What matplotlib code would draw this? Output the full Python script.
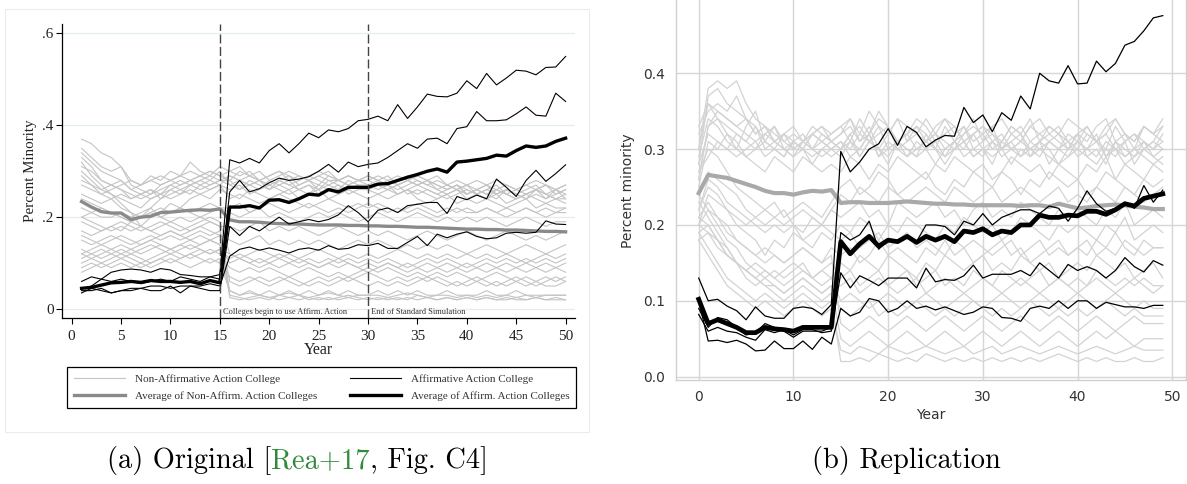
import matplotlib
matplotlib.use('Agg')
import matplotlib.pyplot as plt
from matplotlib.patches import Rectangle
from matplotlib.transforms import IdentityTransform
import numpy as np

W, H = 1187, 484

# ---------------- data: original (Stata) panel, years 1..50 ----------------
orig_years = list(range(1, 51))

# non-affirmative-action colleges, percent minority in percent
orig_nonaa_pct = [
    [37,36,34,33,31,28,27,28,27,28,29,28,29,30,29, 30,29,30,28,29,30,28,29,28,29,28,28,29,28,29, 28,27,28,29,28,27,28,27,26,27, 26,27,26,27,26,27,26,27,26,27],
    [35,33,31,30,31,27,26,25,27,28,27,28,29,28,30, 27,28,29,28,27,28,29,27,28,27,29,28,27,28,28, 29,28,27,28,29,28,27,26,27,26, 25,26,27,25,26,25,26,27,25,26],
    [33,31,28,27,26,24,25,26,24,26,27,28,27,28,27, 29,28,27,26,28,27,26,27,28,26,27,26,28,27,26, 27,26,27,28,27,26,25,26,27,25, 26,25,24,26,25,24,25,24,26,25],
    [32,29,27,25,24,23,22,24,25,26,25,27,26,27,28, 28,26,27,28,26,27,28,26,27,26,28,27,26,27,27, 26,27,25,26,27,28,26,25,26,27, 25,26,25,26,25,24,26,25,24,24],
    [30,28,26,25,23,21,20,22,24,25,26,25,27,26,27, 26,27,25,26,27,26,25,26,27,25,26,27,25,26,26, 25,26,27,25,26,25,24,25,26,24, 25,24,25,23,24,25,24,23,24,23],
    [29,27,25,24,22,21,18,20,21,23,22,24,25,24,26, 25,24,26,25,24,25,26,24,25,26,24,25,26,25,24, 25,24,25,26,24,23,24,25,23,24, 23,24,23,22,23,24,22,23,22,22],
    [22,21,20,20,21,20,21,22,20,21,22,21,22,23,22, 22,23,21,22,23,22,21,22,23,22,21,22,21,22,23, 22,21,22,21,22,21,20,21,22,21, 21,22,21,20,21,22,21,20,21,21],
    [20,21,22,21,20,19,20,21,22,21,22,21,20,21,22, 21,20,21,22,20,21,20,19,20,21,20,21,20,19,20, 21,20,19,20,21,20,19,20,19,20, 19,20,19,18,19,20,19,18,19,19],
    [17,16,17,18,17,19,18,17,18,19,18,17,18,19,18, 18,17,18,19,17,18,17,18,17,16,17,18,17,16,17, 16,17,16,15,16,17,16,15,16,17, 16,15,16,17,16,15,16,15,16,17],
    [16,15,14,15,16,15,14,15,16,17,16,15,16,15,16, 15,14,15,16,14,15,14,15,14,15,14,13,14,15,14, 15,14,13,14,13,14,13,14,13,12, 13,14,13,12,13,14,13,12,13,14],
    [13,12,13,12,13,12,13,14,13,12,13,14,13,12,13, 12,11,12,13,12,11,12,11,12,13,12,11,12,11,12, 11,12,13,12,11,12,11,12,11,12, 11,12,11,12,11,10,11,12,11,12],
    [12,11,12,13,14,13,12,13,14,13,14,15,14,15,14, 10,11,10,9,10,11,10,9,10,9,10,9,10,9,8, 9,10,9,8,9,10,9,8,9,10, 9,10,9,10,9,10,9,10,9,10],
    [10,11,10,11,12,11,10,11,12,13,12,11,12,13,12, 9,8,9,8,9,8,7,8,9,8,7,8,7,8,9, 8,9,8,7,8,7,8,7,8,7, 6,7,8,7,6,7,6,7,6,7],
    [9,10,9,10,11,10,9,10,11,10,11,12,11,10,11, 7,6,7,6,5,6,7,6,5,6,5,6,7,6,5, 6,5,6,5,6,7,6,5,6,5, 6,5,6,5,6,5,6,5,5,6],
    [8,9,10,9,10,9,10,9,10,11,10,9,10,11,10, 4,3,4,3,4,3,4,3,4,3,4,3,4,3,3, 4,3,4,3,4,3,3,4,3,3, 3,4,3,3,4,3,3,3,3,3],
    [12,13,14,13,12,13,14,15,14,13,14,13,14,15,14, 3,2.5,2,2.5,2,3,2.5,2,2.5,2,2.5,2,2.5,2,2.5, 2,2.5,2,2.5,2,2.5,2,2.5,2,2.5, 2,2.5,2,2.5,2,2,2.5,2,2,2],
    [25,24,23,24,25,24,25,26,25,27,26,27,28,27,28, 27,26,28,27,26,28,27,26,25,27,26,25,26,27,26, 27,26,25,26,25,26,25,24,25,26, 25,24,26,25,24,25,26,24,25,26],
    [28,27,26,27,28,26,27,29,28,30,29,32,30,29,31, 30,31,29,30,28,29,30,29,28,29,30,28,29,28,29, 28,29,27,28,29,28,27,26,27,25, 26,27,25,26,25,26,27,25,26,24],
    [19,18,17,18,19,18,17,18,19,18,17,18,19,20,19, 12,11,10,11,10,9,10,11,10,9,10,11,10,9,10, 9,10,9,10,9,8,9,10,9,8, 9,8,9,8,9,8,9,8,9,8],
    [15,14,15,16,15,14,15,16,15,16,15,16,17,16,17, 6,5,6,7,6,7,6,5,6,7,6,7,6,7,8, 7,6,7,6,7,6,7,6,5,6, 7,6,5,6,7,6,5,6,7,6],
    [20,19,18,17,18,17,18,17,16,17,16,17,18,17,16, 4,3,3.5,3,2.5,3,3.5,3,2.5,3,3.5,3,2.5,3,3, 3,2.5,3,3.5,3,2.5,3,3,2.5,3, 2.5,3,2.5,3,2.5,3,2.5,3,3,3],
    [31,30,28,27,26,25,24,25,26,27,28,27,28,29,28, 29,28,27,28,27,28,27,28,29,28,27,28,27,28,27, 28,27,26,27,28,27,26,27,26,25, 26,25,26,25,24,25,26,25,24,25],
    [34,32,30,29,28,26,25,24,25,24,25,26,25,26,27, 24,25,24,23,24,25,24,23,22,23,24,23,22,23,22, 23,22,21,22,23,22,21,22,21,22, 21,22,21,22,21,22,21,22,21,22],
    [27,26,25,26,27,28,27,28,29,28,29,30,29,30,29, 28,30,29,28,29,30,29,28,29,30,29,28,29,28,28, 27,28,29,28,27,28,29,27,28,27, 28,27,28,27,26,27,28,27,26,27],
    [11,12,11,12,11,12,11,10,11,12,11,12,13,12,13, 11,12,11,10,11,12,11,10,11,10,11,10,11,10,11, 10,11,10,9,10,11,10,11,10,9, 10,11,10,11,10,11,10,11,10,11],
    [24,23,22,21,20,19,20,21,20,19,20,19,20,19,18, 2.5,2,2.5,3,2.5,2,2.5,3,2,2.5,2,2.5,3,2.5,2, 2.5,2,2.5,2,3,2.5,2,2.5,2,2.5, 2,2.5,2,2,2.5,2,2.5,2,2.5,2],
]

orig_aa = [
    [0.06,0.07,0.065,0.06,0.065,0.06,0.055,0.06,0.065,0.06,0.07,0.065,0.06,0.07,0.075,
     0.325,0.318,0.328,0.318,0.345,0.36,0.34,0.36,0.383,0.373,0.39,0.386,0.393,0.41,0.413,
     0.42,0.41,0.445,0.415,0.44,0.468,0.463,0.462,0.47,0.497,
     0.48,0.513,0.488,0.503,0.52,0.518,0.51,0.526,0.527,0.55],
    [0.045,0.05,0.065,0.08,0.085,0.087,0.085,0.08,0.088,0.085,0.075,0.073,0.07,0.07,0.065,
     0.255,0.28,0.255,0.262,0.275,0.285,0.28,0.283,0.288,0.30,0.315,0.298,0.32,0.31,0.315,
     0.318,0.33,0.345,0.36,0.35,0.37,0.372,0.36,0.393,0.397,
     0.43,0.41,0.41,0.412,0.425,0.44,0.422,0.42,0.47,0.452],
    [0.035,0.045,0.04,0.035,0.04,0.04,0.045,0.04,0.04,0.05,0.035,0.05,0.045,0.04,0.04,
     0.18,0.16,0.18,0.17,0.185,0.2,0.185,0.19,0.195,0.19,0.195,0.205,0.225,0.21,0.19,
     0.215,0.22,0.21,0.225,0.228,0.232,0.232,0.208,0.245,0.238,
     0.248,0.24,0.283,0.265,0.245,0.28,0.302,0.278,0.295,0.314],
    [0.04,0.04,0.045,0.035,0.04,0.045,0.045,0.05,0.05,0.045,0.05,0.05,0.05,0.055,0.05,
     0.115,0.13,0.135,0.128,0.133,0.128,0.122,0.13,0.133,0.128,0.138,0.13,0.132,0.14,0.138,
     0.143,0.132,0.132,0.145,0.158,0.138,0.163,0.155,0.163,0.168,
     0.158,0.153,0.155,0.165,0.167,0.165,0.167,0.192,0.185,0.184],
]

orig_nonaa_avg = [0.234,0.222,0.212,0.209,0.209,0.195,0.2,0.202,0.21,0.211,0.213,0.215,0.216,0.215,0.218,
                  0.194,0.19,0.19,0.189,0.187,0.186,0.185,0.185,0.184,0.183,0.183,0.183,0.182,0.182,0.181,
                  0.181,0.18,0.18,0.179,0.178,0.178,0.177,0.176,0.175,0.174,
                  0.174,0.173,0.173,0.172,0.172,0.171,0.17,0.169,0.169,0.168]
orig_aa_avg = [0.045,0.047,0.052,0.057,0.058,0.06,0.058,0.062,0.06,0.06,0.058,0.06,0.055,0.062,0.057,
               0.222,0.222,0.225,0.22,0.237,0.238,0.232,0.24,0.25,0.248,0.26,0.255,0.265,0.265,0.265,
               0.272,0.273,0.28,0.287,0.293,0.3,0.305,0.298,0.32,0.322,
               0.325,0.328,0.335,0.333,0.345,0.355,0.352,0.355,0.365,0.372]

orig_xticks = list(range(0, 51, 5))
orig_yticks = [0, 0.2, 0.4, 0.6]
orig_ytick_labels = ['0', '.2', '.4', '.6']
orig_events = [15, 30]
orig_event_labels = ['Colleges begin to use Affirm. Action', 'End of Standard Simulation']
legend_labels = ['Non-Affirmative Action College', 'Average of Non-Affirm. Action Colleges',
                 'Affirmative Action College', 'Average of Affirm. Action Colleges']

# ---------------- data: replication panel, years 0..49 ----------------
rep_years = list(range(0, 50))

rep_nonaa_pct = [
    [30,38,39,38,39,36,34,33,32,31,30,31,32,31,32, 33,31,34,32,35,33,31,32,34,33,31,32,33,31,32, 33,31,32,30,31,33,32,31,30,32, 31,33,31,32,30,31,32,30,31,33],
    [28,37,38,36,35,34,33,31,30,32,31,30,32,33,31, 32,34,31,33,30,32,34,31,33,32,30,33,31,32,34, 31,33,30,32,31,33,34,32,31,30, 32,31,33,34,31,32,30,33,32,34],
    [32,35,36,35,37,34,32,33,31,32,30,31,33,32,31, 30,32,33,31,32,33,30,31,32,34,32,31,30,32,33, 32,30,31,33,32,30,31,33,32,31, 30,32,31,30,33,31,32,31,30,32],
    [26,33,34,33,32,31,30,32,31,30,31,32,30,31,30, 31,30,32,31,33,30,31,32,30,31,32,30,31,33,30, 31,32,30,31,32,29,30,31,32,30, 31,30,32,29,31,30,29,31,30,31],
    [30,36,34,32,30,33,35,31,30,29,31,30,32,31,30, 29,31,30,32,29,30,31,29,30,31,30,29,31,30,32, 30,29,30,31,29,30,31,28,30,31, 29,30,31,29,30,28,29,30,31,30],
    [25,31,30,32,31,29,30,31,33,30,29,30,28,30,31, 30,32,29,31,30,28,31,30,29,32,30,28,30,31,29, 30,28,31,30,29,31,30,29,28,30, 32,29,30,28,31,29,30,29,28,29],
    [29,34,33,31,30,29,28,27,29,28,27,29,28,27,28, 27,29,28,26,28,27,29,28,27,26,28,27,29,28,27, 28,26,27,29,28,27,28,26,28,27, 26,28,27,29,26,28,27,26,28,27],
    [27,30,29,27,25,24,23,22,23,21,22,23,22,21,23, 25,26,24,25,27,26,24,25,26,27,25,24,26,25,27, 26,25,27,26,24,26,25,27,26,25, 26,24,25,27,26,25,24,26,25,26],
    [24,27,26,25,24,22,21,20,21,22,20,19,21,20,22, 21,22,23,21,22,20,23,22,21,22,23,21,22,20,22, 23,21,22,21,23,22,21,20,22,21, 22,21,20,22,21,23,20,21,22,21],
    [22,25,24,22,20,19,18,16,18,17,19,18,17,19,18, 20,19,21,20,18,20,19,21,20,19,18,20,19,21,20, 19,20,18,19,21,20,19,18,20,19, 20,19,18,20,19,21,18,19,20,19],
    [21,23,21,20,18,17,16,15,16,15,16,17,16,15,17, 16,17,15,16,18,16,17,16,15,17,16,18,16,17,15, 16,17,18,16,17,15,16,17,18,16, 17,16,18,17,19,17,16,18,17,17],
    [20,22,20,18,17,15,14,13,14,13,14,15,13,14,13, 15,14,16,15,14,16,15,14,13,15,14,16,15,14,15, 16,14,15,14,16,15,14,15,13,14, 15,14,16,15,14,15,13,14,15,13],
    [19,20,18,16,15,14,13,12,12,11,12,13,12,11,12, 12,13,11,12,13,12,11,12,13,11,12,13,12,11,12, 13,12,11,12,13,12,11,12,13,12, 11,12,13,12,11,12,13,12,11,12],
    [23,21,19,17,15,14,13,12,11,10,11,12,11,10,11, 9,8,9,10,8,9,8,9,10,9,8,9,8,9,10, 9,8,9,8,9,10,9,8,9,8, 9,8,9,10,9,8,9,8,8,8],
    [20,19,18,16,15,13,12,13,12,11,12,13,12,11,12, 5,4,5,6,5,4,5,6,5,4,5,6,5,4,5, 6,5,4,5,6,5,4,5,6,5, 4,5,6,5,6,5,4,5,5,5],
    [19,17,15,13,12,11,10,11,10,9,10,11,10,9,10, 2,2,2.5,2,3,2.5,2,2.5,2,3,2.5,2,2.5,2,2.5, 2,2.5,2,2.5,2,2.5,2,2.5,3,2.5, 2,2.5,2,2.5,2,2,2.5,2,2,2.5],
    [18,16,14,12,11,10,9,10,9,8,9,10,9,8,9, 3.5,3,4,3.5,3,4,3.5,3,3.5,4,3.5,3,3.5,4,3, 3.5,4,3,3.5,4,3.5,3,3.5,4,3.5, 3,3.5,4,3.5,3,3.5,4,3.5,3.5,3.5],
    [24,22,21,19,18,17,16,17,16,15,16,17,16,15,16, 7,6,7,8,7,6,7,8,7,6,7,8,7,6,7, 8,7,6,7,8,7,6,7,8,7, 6,7,8,7,6,7,8,7,7,7],
    [26,33,35,34,33,34,32,33,31,32,33,31,32,33,32, 33,34,32,35,33,32,34,33,32,31,33,34,32,33,31, 32,33,34,32,33,31,32,33,32,34, 33,32,31,33,34,32,31,33,32,33],
    [27,29,31,30,32,31,33,30,31,30,29,31,30,29,30, 31,29,30,32,29,31,30,29,31,30,28,30,31,29,30, 29,31,30,28,30,29,31,30,28,29, 30,29,28,30,29,31,28,30,29,28],
    [22,26,25,23,22,21,20,19,20,19,20,18,19,20,19, 18,19,17,18,19,17,18,19,17,18,17,16,18,17,18, 17,16,17,18,16,17,18,16,17,16, 17,18,16,17,16,18,17,16,17,17],
    [18,19,17,16,15,14,15,14,13,14,15,14,13,14,15, 13,14,12,13,14,12,13,14,12,13,14,12,13,12,14, 13,12,14,13,12,13,14,12,13,12, 13,12,14,13,12,13,12,13,12,12],
    [33,36,35,34,33,32,31,32,33,31,32,31,30,32,31, 32,33,31,32,34,33,31,32,33,31,32,34,33,31,32, 33,32,31,33,32,34,31,32,33,31, 32,33,31,32,34,32,31,33,32,31],
    [28,32,31,30,29,30,31,29,30,29,31,30,29,30,29, 30,31,29,31,30,29,31,30,29,30,31,29,30,31,29, 30,31,29,30,31,30,29,31,30,29, 31,30,29,31,30,29,30,31,29,30],
    [21,20,18,17,15,14,13,14,13,12,13,14,13,12,13, 10,11,10,9,10,11,10,9,10,11,10,9,10,11,10, 9,10,11,10,9,10,11,10,9,10, 11,10,9,10,11,10,9,10,9,9],
    [20,24,23,22,21,20,21,22,21,20,21,22,21,20,22, 24,23,25,24,23,25,24,23,24,25,24,23,25,24,23, 24,25,23,24,25,24,23,24,25,23, 24,23,25,24,23,25,24,23,24,25],
]

rep_aa = [
    [0.13,0.10,0.102,0.093,0.087,0.075,0.092,0.08,0.077,0.077,0.09,0.092,0.09,0.082,0.095,
     0.297,0.27,0.283,0.30,0.307,0.327,0.305,0.33,0.322,0.303,0.312,0.318,0.317,0.355,0.335,
     0.345,0.323,0.348,0.338,0.37,0.353,0.40,0.39,0.387,0.41,
     0.386,0.387,0.416,0.402,0.413,0.437,0.442,0.456,0.473,0.476],
    [0.09,0.065,0.078,0.075,0.065,0.055,0.058,0.07,0.065,0.06,0.052,0.06,0.06,0.06,0.065,
     0.19,0.18,0.187,0.205,0.168,0.18,0.18,0.185,0.178,0.20,0.20,0.198,0.187,0.205,0.20,
     0.215,0.20,0.21,0.215,0.22,0.22,0.215,0.225,0.222,0.205,
     0.222,0.245,0.228,0.218,0.222,0.23,0.222,0.252,0.23,0.246],
    [0.082,0.06,0.065,0.06,0.058,0.052,0.048,0.062,0.058,0.062,0.055,0.062,0.062,0.058,0.06,
     0.137,0.117,0.133,0.127,0.12,0.13,0.13,0.13,0.117,0.143,0.125,0.128,0.127,0.133,0.147,
     0.13,0.135,0.135,0.135,0.14,0.133,0.15,0.14,0.13,0.148,
     0.14,0.145,0.14,0.13,0.14,0.157,0.145,0.138,0.153,0.147],
    [0.10,0.047,0.048,0.045,0.048,0.043,0.034,0.035,0.047,0.037,0.037,0.047,0.036,0.052,0.043,
     0.09,0.08,0.085,0.103,0.10,0.085,0.09,0.10,0.09,0.093,0.088,0.092,0.087,0.082,0.085,
     0.092,0.09,0.078,0.077,0.073,0.09,0.093,0.09,0.10,0.09,
     0.10,0.10,0.09,0.098,0.095,0.092,0.092,0.09,0.094,0.094],
]

rep_nonaa_avg = [0.242,0.266,0.264,0.262,0.258,0.254,0.25,0.245,0.242,0.242,0.24,0.243,0.245,0.244,0.246,
                 0.229,0.23,0.23,0.229,0.229,0.229,0.23,0.231,0.23,0.229,0.228,0.228,0.227,0.227,0.226,
                 0.226,0.226,0.226,0.226,0.225,0.226,0.226,0.224,0.228,0.225,
                 0.222,0.223,0.225,0.226,0.227,0.226,0.224,0.223,0.221,0.221]
rep_aa_avg = [0.102,0.07,0.075,0.07,0.065,0.058,0.058,0.065,0.063,0.062,0.06,0.065,0.065,0.065,0.065,
              0.178,0.162,0.175,0.185,0.172,0.18,0.178,0.185,0.177,0.185,0.18,0.185,0.178,0.192,0.19,
              0.195,0.187,0.192,0.19,0.20,0.20,0.213,0.21,0.21,0.213,
              0.212,0.218,0.218,0.214,0.22,0.228,0.225,0.235,0.238,0.241]

rep_xticks = list(range(0, 51, 10))
rep_yticks = [0.0, 0.1, 0.2, 0.3, 0.4]

caption_a = [('(a) Original [', 'black'), ('Rea+17', '#2f8a3a'), (', Fig. C4]', 'black')]
caption_b = [('(b) Replication', 'black')]

# ---------------- figure ----------------
fig = plt.figure(figsize=(W / 100, H / 100), dpi=100)


def ax_rect(l, t, r, b):
    return [l / W, 1 - b / H, (r - l) / W, (b - t) / H]


# faint outer frame around the Stata graph
fig.add_artist(Rectangle((5 / W, 1 - 432 / H), (589 - 5) / W, (432 - 9) / H,
                         transform=fig.transFigure, fill=False,
                         edgecolor='#ececec', lw=0.8))

# ---- panel (a) ----
ax1 = fig.add_axes(ax_rect(62.3, 24.3, 575, 318))
serif = 'Liberation Serif'
h_gray = None
for v in orig_nonaa_pct:
    n = min(len(v), len(orig_years))
    h_gray, = ax1.plot(orig_years[:n], np.array(v[:n]) / 100.0, color='#c4c4c4', lw=0.8, zorder=2)
h_gavg, = ax1.plot(orig_years, orig_nonaa_avg, color='#8a8a8a', lw=2.4, zorder=3,
                   solid_joinstyle='round')
h_aa = None
for v in orig_aa:
    n = min(len(v), len(orig_years))
    h_aa, = ax1.plot(orig_years[:n], v[:n], color='black', lw=0.8, zorder=4)
h_aavg, = ax1.plot(orig_years, orig_aa_avg, color='black', lw=2.4, zorder=5,
                   solid_joinstyle='round')

for xe, lab in zip(orig_events, orig_event_labels):
    ax1.axvline(xe, color='#444444', lw=1.0, linestyle=(0, (6.5, 2.5)), zorder=6)
    ax1.text(xe + 0.3, -0.006, lab, fontsize=6, family=serif, color='#333333',
             ha='left', va='center', zorder=7)

ax1.set_xlim(-0.95, 50.95)
ax1.set_ylim(-0.0196, 0.620)
ax1.set_xticks(orig_xticks)
ax1.set_yticks(orig_yticks)
ax1.set_yticklabels(orig_ytick_labels)
for s in ['top', 'right']:
    ax1.spines[s].set_visible(False)
for s in ['left', 'bottom']:
    ax1.spines[s].set_linewidth(0.9)
    ax1.spines[s].set_color('black')
ax1.yaxis.grid(True, color='#e4eded', lw=0.9)
ax1.set_axisbelow(True)
ax1.tick_params(axis='y', length=4, width=0.8, pad=2.2, labelsize=11, labelcolor='#222222')
ax1.tick_params(axis='x', length=4, width=0.8, pad=4.5, labelsize=11, labelcolor='#222222')
for lab in ax1.get_xticklabels() + ax1.get_yticklabels():
    lab.set_family(serif)

fig.text(318.5 / W, 1 - 350 / H, 'Year', family=serif, fontsize=11.5, ha='center', va='center',
         color='#222222')
fig.text(31 / W, 1 - 171 / H, 'Percent Minority', family=serif, fontsize=10.8, rotation=90,
         ha='center', va='center', color='#222222')

leg = fig.legend(handles=[h_gray, h_gavg, h_aa, h_aavg], labels=legend_labels, ncol=2,
                 loc='upper left',
                 bbox_to_anchor=(67.3 / W, 1 - 414.5 / H, (576 - 67.3) / W, (414.5 - 367.3) / H),
                 bbox_transform=fig.transFigure, borderaxespad=0, frameon=True, mode='expand',
                 fancybox=False, edgecolor='black', framealpha=1,
                 prop={'family': serif, 'size': 8}, labelcolor='#333333',
                 handlelength=4.6, handletextpad=0.85, columnspacing=2.0,
                 labelspacing=0.7, borderpad=0.6)
leg.get_frame().set_linewidth(0.9)

# ---- panel (b) ----
ax2 = fig.add_axes(ax_rect(675.7, 0, 1186, 380))
for v in rep_nonaa_pct:
    n = min(len(v), len(rep_years))
    ax2.plot(rep_years[:n], np.array(v[:n]) / 100.0, color='#d3d3d3', lw=0.9, zorder=2)
ax2.plot(rep_years, rep_nonaa_avg, color='#a9a9a9', lw=3.0, zorder=3, solid_joinstyle='round')
for v in rep_aa:
    n = min(len(v), len(rep_years))
    ax2.plot(rep_years[:n], v[:n], color='black', lw=0.9, zorder=4)
ax2.plot(rep_years, rep_aa_avg, color='black', lw=3.4, zorder=5, solid_joinstyle='round')

ax2.set_xlim(-2.43, 51.45)
ax2.set_ylim(-0.0044, 0.4966)
ax2.set_xticks(rep_xticks)
ax2.set_yticks(rep_yticks)
ax2.set_yticklabels([f'{t:.1f}' for t in rep_yticks])
ax2.grid(True, color='#d6d6d6', lw=1.0)
ax2.set_axisbelow(True)
ax2.spines['top'].set_visible(False)
for s in ['left', 'bottom', 'right']:
    ax2.spines[s].set_color('#d0d0d0')
    ax2.spines[s].set_linewidth(1.0)
ax2.tick_params(axis='both', length=0, labelsize=10, labelcolor='#333333')
ax2.tick_params(axis='y', pad=7.7)
ax2.tick_params(axis='x', pad=7.5)

fig.text(930.7 / W, 1 - 415 / H, 'Year', fontsize=10, ha='center', va='center', color='#333333')
fig.text(628 / W, 1 - 191 / H, 'Percent minority', fontsize=10, rotation=90,
         ha='center', va='center', color='#333333')

# ---- captions ----
renderer = fig.canvas.get_renderer()


def caption(pieces, cx, baseline):
    texts = []
    for s, c in pieces:
        t = fig.text(0, 0, s, color=c, fontsize=20.5, family='cmr10',
                     ha='left', va='baseline', transform=IdentityTransform())
        texts.append(t)
    widths = [t.get_window_extent(renderer).width for t in texts]
    x = cx - sum(widths) / 2.0
    for t, w in zip(texts, widths):
        t.set_position((x, H - baseline))
        x += w


caption(caption_a, 297.5, 468)
caption(caption_b, 906.5, 468)

fig.savefig('out.png', dpi=100)
